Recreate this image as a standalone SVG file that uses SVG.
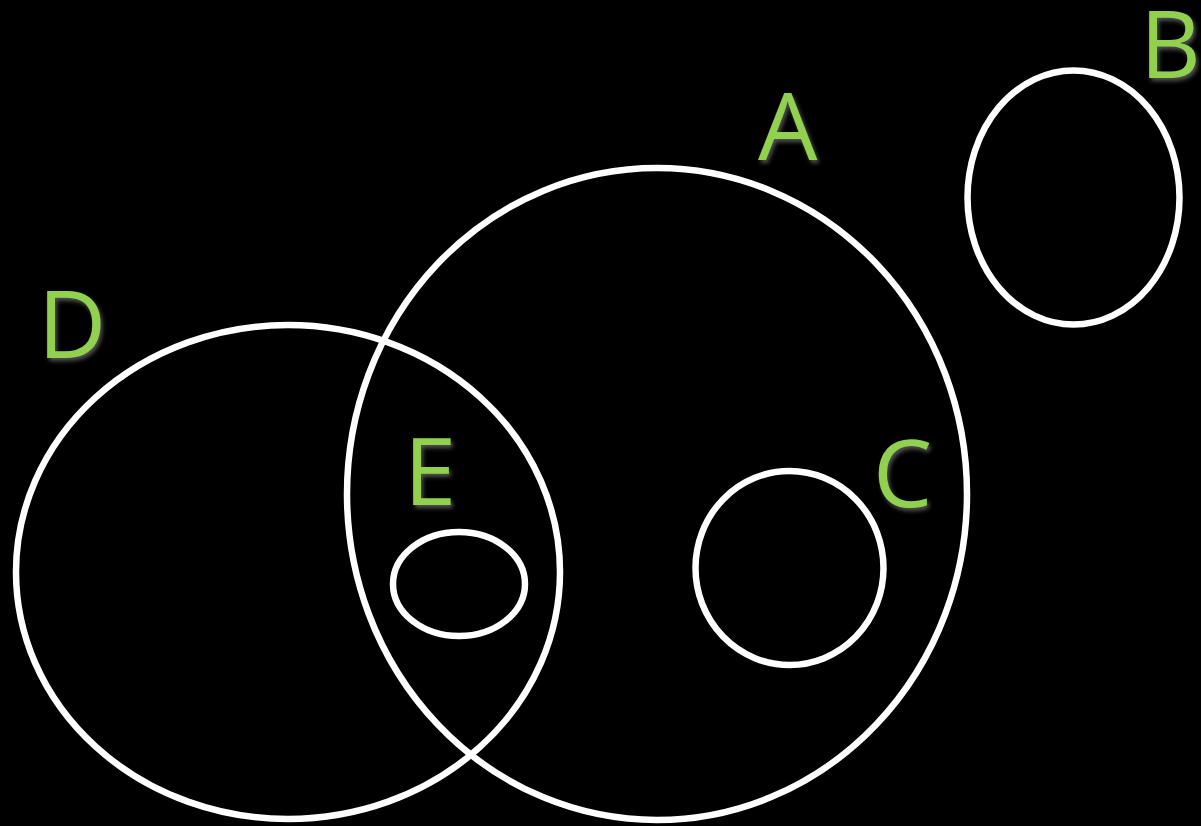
<svg xmlns="http://www.w3.org/2000/svg" width="1201" height="826" viewBox="0 0 1201 826">
<style>
.set{fill:none;stroke:#ffffff;stroke-width:6.5}
.lbl{fill:#92D050;font-family:"Open Sans","Noto Sans",sans-serif;font-size:94px;filter:url(#sh)}
</style>
<defs>
<filter id="sh" x="-20%" y="-20%" width="150%" height="150%">
<feDropShadow dx="2" dy="3" stdDeviation="2" flood-color="#777777" flood-opacity="0.7"/>
</filter>
</defs>
<rect x="0" y="0" width="1201" height="826" fill="#000000"/>
<g id="node-A"><ellipse class="set" cx="657" cy="494" rx="310" ry="326"/><text class="lbl" x="758" y="160">A</text></g>
<g id="node-B"><ellipse class="set" cx="1073.5" cy="197.5" rx="106" ry="127"/><text class="lbl" x="1140" y="78">B</text></g>
<g id="node-C"><ellipse class="set" cx="789.5" cy="568" rx="94" ry="97"/><text class="lbl" x="873" y="507">C</text></g>
<g id="node-D"><ellipse class="set" cx="288" cy="572" rx="272" ry="247"/><text class="lbl" x="38" y="358">D</text></g>
<g id="node-E"><ellipse class="set" cx="459" cy="584" rx="66" ry="52"/><text class="lbl" x="404" y="505">E</text></g>
<g id="connectors"></g>
</svg>
